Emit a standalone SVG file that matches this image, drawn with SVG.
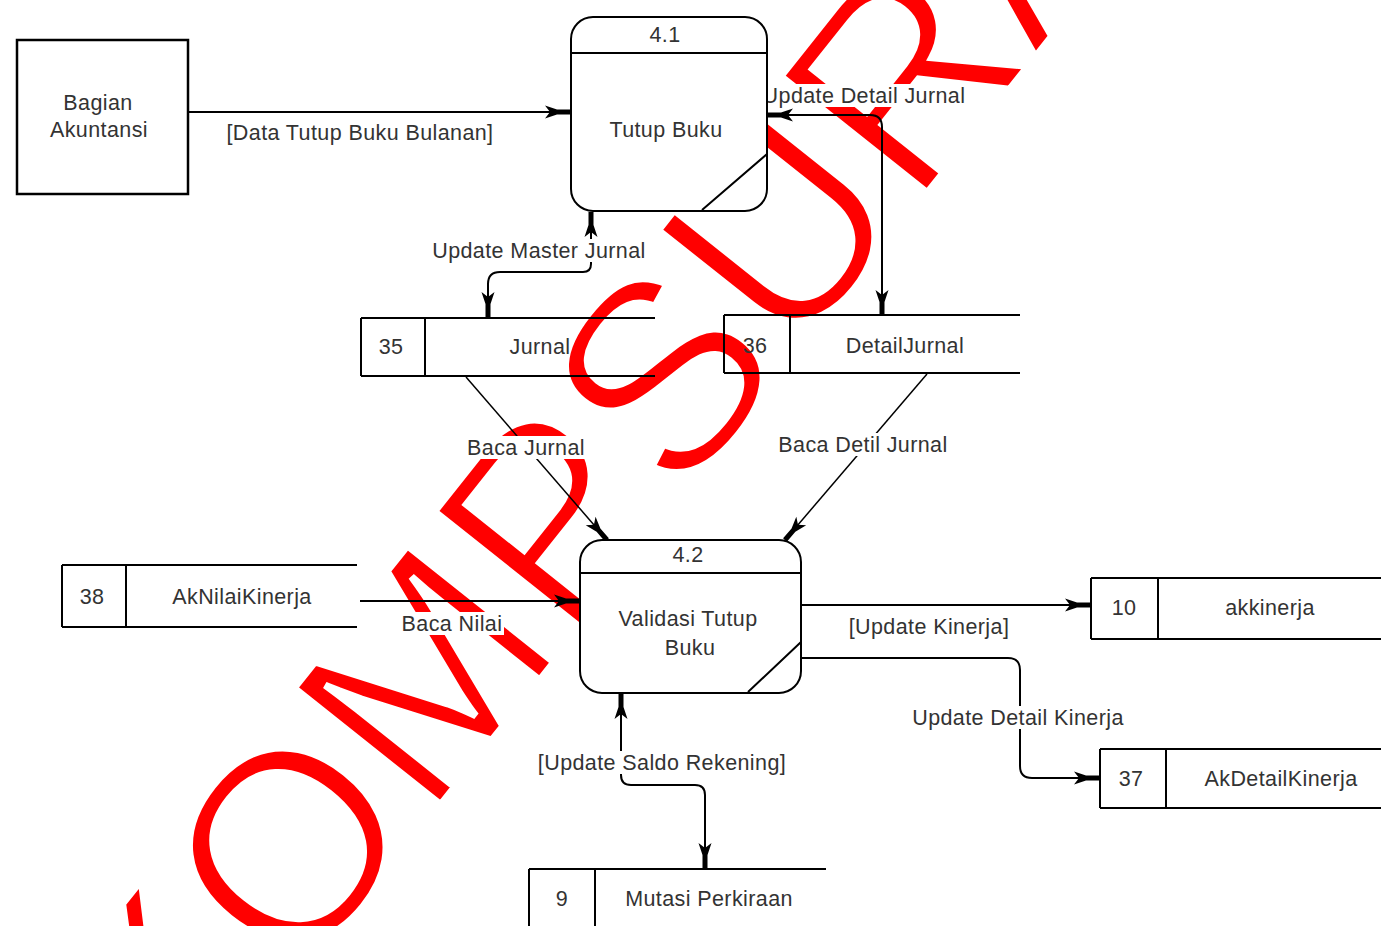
<svg xmlns="http://www.w3.org/2000/svg" width="1381" height="926" viewBox="0 0 1381 926">
  <defs>
    <marker id="arrow" viewBox="-26 -8 27 16" refX="0" refY="0" markerWidth="27" markerHeight="16" markerUnits="userSpaceOnUse" orient="auto-start-reverse">
      <path d="M-25,-6.5 L-13,-2.5 L0,-2.5 L0,2.5 L-13,2.5 L-25,6.5 L-20,0 Z" fill="#000"/>
    </marker>
    <style>
      .ln { fill: none; stroke: #000; stroke-width: 2; }
      .thin { fill: none; stroke: #000; stroke-width: 1.5; }
      .box { fill: #fff; stroke: #000; stroke-width: 2.5; }
      .proc { fill: #fff; stroke: #000; stroke-width: 2; }
      .store { fill: none; stroke: #000; stroke-width: 2; }
      .bg { fill: #fff; stroke: none; }
      text { font-family: "Liberation Sans", Arial, sans-serif; font-size: 21.5px; letter-spacing: 0.4px; fill: #333; text-anchor: middle; }
      .wm { font-family: "Liberation Sans", Arial, sans-serif; font-size: 272px; letter-spacing: -1px; fill: #ff0000; stroke: #fff; stroke-width: 7px; text-anchor: start; }
    </style>
  </defs>

  <rect width="1381" height="926" fill="#fff"/>

  <!-- watermark, rotated about the centre of the O -->
  <g transform="translate(284 844) rotate(-51.5)">
    <text class="wm" x="-285" y="98">KOMPSURA</text>
  </g>

  <!-- data stores (open ended, no fill) -->
  <g id="store35">
    <path class="store" d="M361,318 H655 M361,376 H655 M361,318 V376 M425,318 V376"/>
    <text x="391" y="353.5">35</text>
    <text x="540" y="353.5">Jurnal</text>
  </g>
  <g id="store36">
    <path class="store" d="M724,315 H1020 M724,373 H1020 M724,315 V373 M790,315 V373"/>
    <text x="755" y="352.5">36</text>
    <text x="905" y="352.5">DetailJurnal</text>
  </g>
  <g id="store38">
    <path class="store" d="M62,565 H357 M62,627 H357 M62,565 V627 M126,565 V627"/>
    <text x="92" y="603.5">38</text>
    <text x="242" y="603.5">AkNilaiKinerja</text>
  </g>
  <g id="store10">
    <path class="store" d="M1091,578 H1385 M1091,639 H1385 M1091,578 V639 M1158,578 V639"/>
    <text x="1124" y="614.5">10</text>
    <text x="1270" y="614.5">akkinerja</text>
  </g>
  <g id="store37">
    <path class="store" d="M1100,749 H1385 M1100,808 H1385 M1100,749 V808 M1166,749 V808"/>
    <text x="1131" y="785.5">37</text>
    <text x="1281" y="785.5">AkDetailKinerja</text>
  </g>
  <g id="store9">
    <path class="store" d="M529,869 H826 M529,869 V930 M595,869 V930"/>
    <text x="562" y="905.5">9</text>
    <text x="709" y="905.5">Mutasi Perkiraan</text>
  </g>

  <!-- flows -->
  <g id="connectors">
    <path class="ln" d="M188,112 H570" marker-end="url(#arrow)"/>
    <rect class="bg" x="224" y="121" width="272" height="23"/>
    <text x="360" y="140">[Data Tutup Buku Bulanan]</text>

    <path class="ln" d="M768,115 H870 Q882,115 882,127 V315" marker-start="url(#arrow)" marker-end="url(#arrow)"/>
    <rect class="bg" x="762" y="84" width="204" height="23"/>
    <text x="864" y="103">Update Detail Jurnal</text>

    <path class="ln" d="M591,212 V264 Q591,272 583,272 H500 Q488,272 488,284 V317" marker-start="url(#arrow)" marker-end="url(#arrow)"/>
    <rect class="bg" x="431" y="239" width="216" height="23"/>
    <text x="539" y="258">Update Master Jurnal</text>

    <path class="thin" d="M466,377 L607,540" marker-end="url(#arrow)"/>
    <rect class="bg" x="466" y="436" width="121" height="23"/>
    <text x="526" y="455">Baca Jurnal</text>

    <path class="thin" d="M927,374 L785,540" marker-end="url(#arrow)"/>
    <rect class="bg" x="777" y="433" width="172" height="23"/>
    <text x="863" y="452">Baca Detil Jurnal</text>

    <path class="ln" d="M360,601 H579" marker-end="url(#arrow)"/>
    <rect class="bg" x="400" y="612" width="104" height="23"/>
    <text x="452" y="631">Baca Nilai</text>

    <path class="ln" d="M801,605 H1090" marker-end="url(#arrow)"/>
    <rect class="bg" x="847" y="615" width="163" height="23"/>
    <text x="929" y="634">[Update Kinerja]</text>

    <path class="ln" d="M801,658 H1008 Q1020,658 1020,670 V766 Q1020,778 1032,778 H1099" marker-end="url(#arrow)"/>
    <rect class="bg" x="911" y="706" width="214" height="23"/>
    <text x="1018" y="725">Update Detail Kinerja</text>

    <path class="ln" d="M621,694 V775 Q621,785 631,785 H695 Q705,785 705,795 V868" marker-start="url(#arrow)" marker-end="url(#arrow)"/>
    <rect class="bg" x="536" y="751" width="252" height="23"/>
    <text x="662" y="770">[Update Saldo Rekening]</text>
  </g>

  <!-- external entity -->
  <g id="bagian-akuntansi">
    <rect class="box" x="17" y="40" width="171" height="154"/>
    <text x="98" y="110">Bagian</text>
    <text x="99" y="137">Akuntansi</text>
  </g>

  <!-- processes -->
  <g id="proc41">
    <rect class="proc" x="571" y="17" width="196" height="194" rx="22" ry="22"/>
    <path class="ln" d="M571,53 H767 M702,210 L767,154"/>
    <text x="665" y="41.5">4.1</text>
    <text x="666" y="136.5">Tutup Buku</text>
  </g>
  <g id="proc42">
    <rect class="proc" x="580" y="540" width="221" height="153" rx="22" ry="22"/>
    <path class="ln" d="M580,573 H801 M748,692 L801,642"/>
    <text x="688" y="561.5">4.2</text>
    <text x="688" y="625.5">Validasi Tutup</text>
    <text x="690" y="654.5">Buku</text>
  </g>
</svg>
